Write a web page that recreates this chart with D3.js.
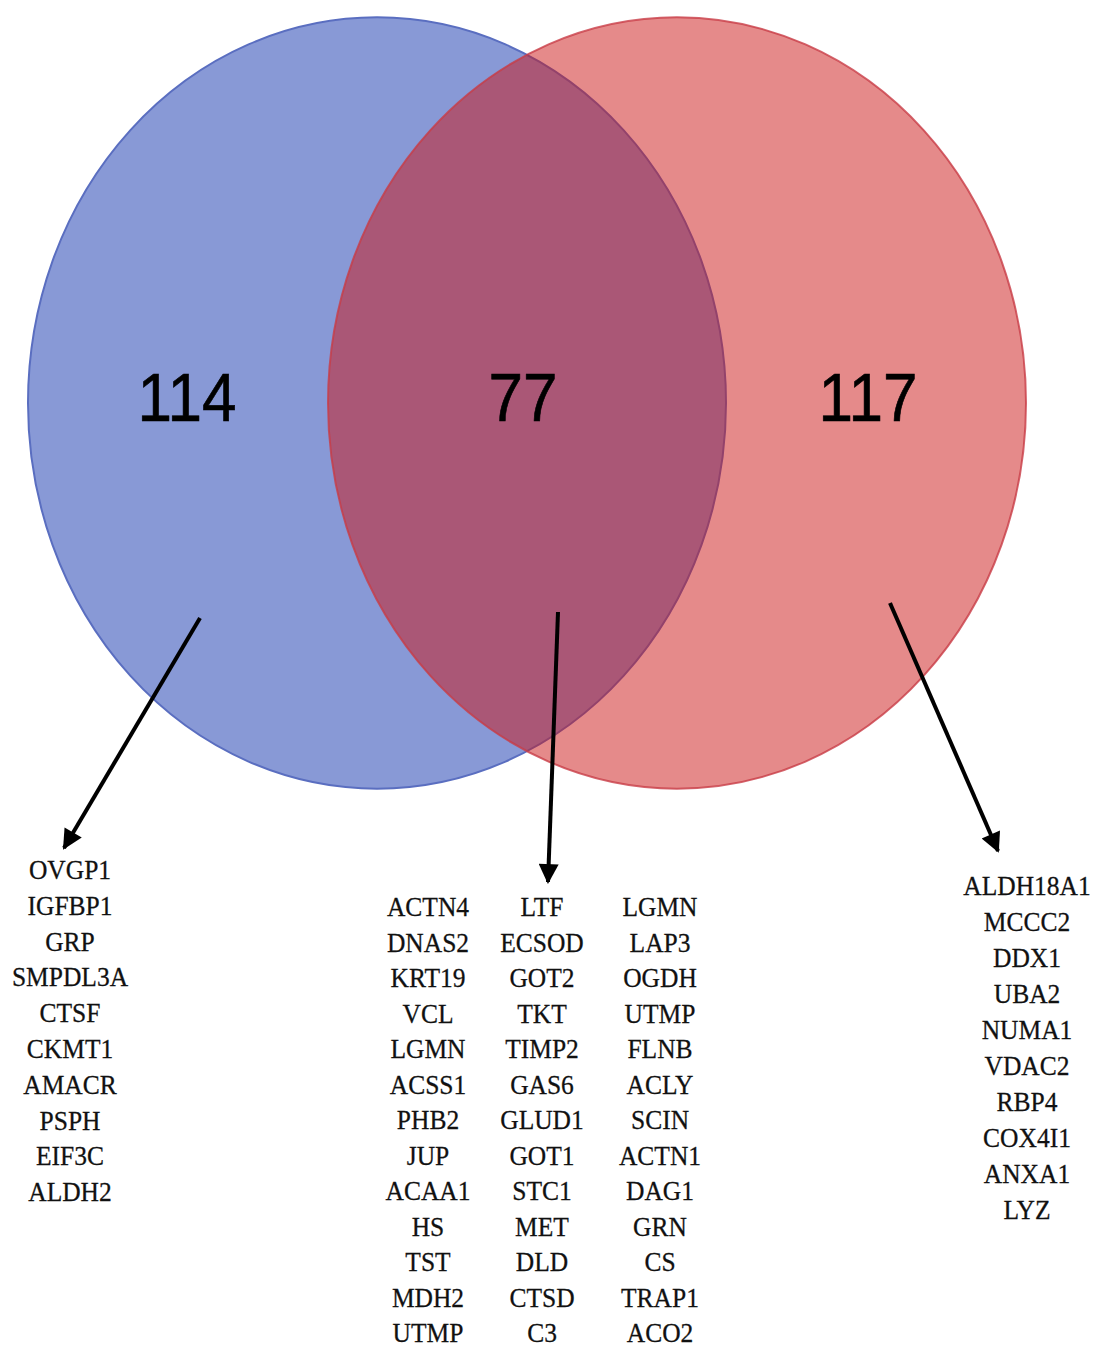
<!DOCTYPE html>
<html>
<head>
<meta charset="utf-8">
<script src="https://cdn.jsdelivr.net/npm/d3@7"></script>
<style>
html,body{margin:0;padding:0;background:#fff;}
svg{display:block;}
</style>
</head>
<body>
<svg id="chart" width="1093" height="1347"></svg>
<script>
// ---- data ----
const setNames = ["Set A", "Set B"];
const regionKeys = ["onlyA", "both", "onlyB"];
const regionCounts = [114, 77, 117];
const genesOnlyA = ["OVGP1","IGFBP1","GRP","SMPDL3A","CTSF","CKMT1","AMACR","PSPH","EIF3C","ALDH2"];
const genesBothCol1 = ["ACTN4","DNAS2","KRT19","VCL","LGMN","ACSS1","PHB2","JUP","ACAA1","HS","TST","MDH2","UTMP"];
const genesBothCol2 = ["LTF","ECSOD","GOT2","TKT","TIMP2","GAS6","GLUD1","GOT1","STC1","MET","DLD","CTSD","C3"];
const genesBothCol3 = ["LGMN","LAP3","OGDH","UTMP","FLNB","ACLY","SCIN","ACTN1","DAG1","GRN","CS","TRAP1","ACO2"];
const genesOnlyB = ["ALDH18A1","MCCC2","DDX1","UBA2","NUMA1","VDAC2","RBP4","COX4I1","ANXA1","LYZ"];

// ---- layout ----
const SY = 1.105; // vertical stretch of the original figure
const svg = d3.select("#chart");

const xSet = d3.scaleLinear().domain([0, 1]).range([377, 677]);
const R = 349;
const cy = 403;

const circleFill = ["#8899d6", "rgb(203,21,21)"];
const circleFillOpacity = [1, 0.5];
const circleStroke = ["#5a6ec0", "rgba(200,60,70,0.8)"];

svg.selectAll("ellipse.set")
  .data(setNames)
  .join("ellipse")
  .attr("class", "set")
  .attr("cx", (d, i) => xSet(i))
  .attr("cy", cy)
  .attr("rx", R)
  .attr("ry", R * SY)
  .attr("fill", (d, i) => circleFill[i])
  .attr("fill-opacity", (d, i) => circleFillOpacity[i])
  .attr("stroke", (d, i) => circleStroke[i])
  .attr("stroke-width", 2);

// region count labels
const regionX = d3.scaleOrdinal().domain(regionKeys).range([187, 523, 868]);
svg.selectAll("text.count")
  .data(regionCounts)
  .join("text")
  .attr("class", "count")
  .attr("transform", (d, i) => `translate(${regionX(regionKeys[i])},${421}) scale(1,${SY})`)
  .attr("text-anchor", "middle")
  .attr("font-family", "Liberation Sans, Arial, sans-serif")
  .attr("font-size", 62)
  .attr("fill", "#000")
  .attr("stroke", "#000")
  .attr("stroke-width", 0.6)
  .text(d => d);

// arrows
const defs = svg.append("defs");
defs.append("marker")
  .attr("id", "arrow")
  .attr("viewBox", "0 0 10 10")
  .attr("refX", 9).attr("refY", 5)
  .attr("markerWidth", 6).attr("markerHeight", 5)
  .attr("orient", "auto")
  .attr("markerUnits", "strokeWidth")
  .append("path")
  .attr("d", "M0,0 L10,5 L0,10 z")
  .attr("fill", "#000");

const arrowFrom = [[200, 618], [558, 612], [890, 603]];
const arrowTo = [[64, 848], [548, 882], [998, 851]];
svg.selectAll("line.arrow")
  .data(regionKeys)
  .join("line")
  .attr("class", "arrow")
  .attr("x1", (d, i) => arrowFrom[i][0])
  .attr("y1", (d, i) => arrowFrom[i][1])
  .attr("x2", (d, i) => arrowTo[i][0])
  .attr("y2", (d, i) => arrowTo[i][1])
  .attr("stroke", "#000")
  .attr("stroke-width", 4)
  .attr("marker-end", "url(#arrow)");

// gene lists
function geneColumn(list, cx, y0, step) {
  const y = d3.scaleLinear().domain([0, 1]).range([y0, y0 + step]);
  svg.append("g").selectAll("text")
    .data(list)
    .join("text")
    .attr("transform", (d, i) => `translate(${cx},${y(i)}) scale(1,${SY})`)
    .attr("text-anchor", "middle")
    .attr("font-family", "Liberation Serif, Times New Roman, serif")
    .attr("font-size", 25.5)
    .attr("fill", "#111")
    .attr("stroke", "#111")
    .attr("stroke-width", 0.25)
    .text(d => d);
}
geneColumn(genesOnlyA, 70, 879, 35.8);
geneColumn(genesBothCol1, 428, 916, 35.5);
geneColumn(genesBothCol2, 542, 916, 35.5);
geneColumn(genesBothCol3, 660, 916, 35.5);
geneColumn(genesOnlyB, 1027, 895, 36);
</script>
</body>
</html>
